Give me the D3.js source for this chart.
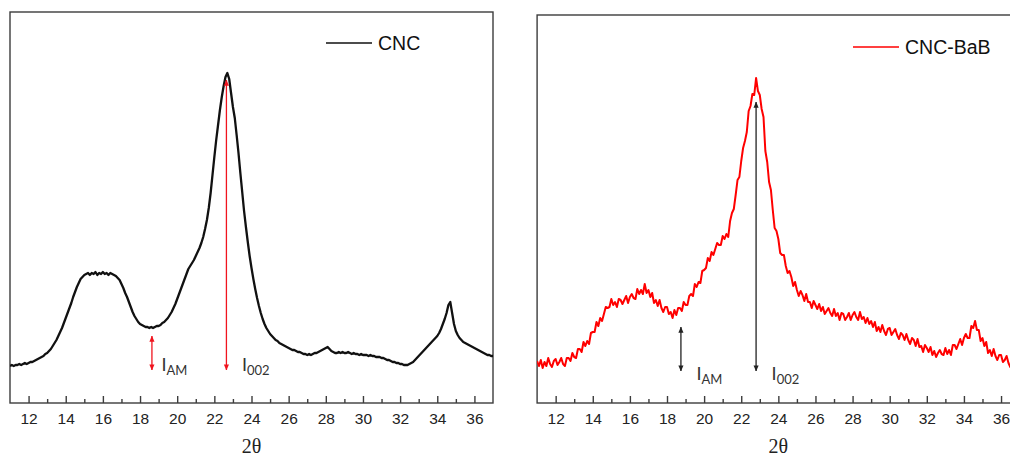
<!DOCTYPE html>
<html>
<head>
<meta charset="utf-8">
<script src="https://cdn.jsdelivr.net/npm/d3@7"></script>
<style>
  html, body { margin: 0; padding: 0; background: #fff; }
  svg { display: block; }
</style>
</head>
<body>
<svg id="chart" width="1010" height="459"></svg>
<script>
// XRD patterns, sampled every 0.1 degree 2θ from 11 to 37 (intensity in a.u.)
const thetaStart = 11;
const thetaStep = 0.1;

const cncIntensity = [
  37,38,37,38,38,39,38,39,40,39,40,
  41,41,42,43,44,45,46,47,49,50,
  52,54,57,60,63,67,71,75,80,85,
  90,95,100,106,111,116,120,124,126,128,
  129,130,128,130,129,131,128,130,129,131,
  129,130,128,130,129,128,127,125,123,119,
  115,110,106,101,96,91,87,84,81,79,
  78,77,76,76,75,76,75,76,77,77,
  78,80,81,83,85,88,91,95,99,104,
  109,114,119,124,129,134,137,140,143,147,
  151,155,160,166,174,183,195,210,228,246,
  263,278,293,306,317,326,330,324,310,296,
  285,268,250,230,211,192,176,161,147,135,
  124,114,105,97,90,84,79,75,72,69,
  67,65,63,62,60,59,58,57,56,55,
  54,53,53,52,51,51,50,49,49,48,
  49,48,49,50,50,51,52,53,54,55,
  56,54,52,51,50,50,51,50,51,50,
  50,51,50,49,50,49,49,48,49,48,
  48,48,47,48,47,47,46,46,46,45,
  45,44,43,43,42,41,41,40,40,39,
  39,38,38,38,39,40,41,43,45,47,
  49,51,53,55,57,59,61,63,65,67,
  70,74,79,84,90,98,101,90,79,72,
  68,65,63,61,60,59,58,57,56,55,
  54,53,52,51,50,49,48,48,47,47
];

const cncBabIntensity = [
  42,37,43,35,41,37,45,39,36,42,44,
  38,41,45,39,37,45,45,42,50,46,
  45,54,54,51,61,57,62,59,70,71,
  71,81,77,85,82,89,96,95,96,104,
  98,101,96,104,103,99,103,107,100,106,
  109,105,104,114,109,113,109,119,110,113,
  106,110,100,103,97,103,95,91,96,96,
  89,91,85,93,88,95,95,92,101,98,
  98,107,109,107,119,116,121,120,132,133,
  135,145,142,151,148,154,160,158,158,167,
  164,169,166,182,190,194,208,223,226,242,
  255,262,271,292,297,309,308,325,312,308,
  294,286,252,241,221,213,193,175,172,164,
  150,148,148,137,130,132,126,117,121,113,
  107,112,108,102,109,101,101,95,102,98,
  94,99,92,96,89,92,95,90,87,94,
  87,90,83,90,89,83,86,90,83,88,
  91,86,83,91,84,86,80,85,79,82,
  76,81,72,76,71,78,72,68,74,75,
  68,71,74,68,64,70,68,63,69,63,
  59,65,63,57,64,56,57,51,58,55,
  51,56,48,52,46,50,53,49,48,55,
  49,53,48,58,58,54,59,64,58,65,
  69,65,65,77,75,82,73,73,62,65,
  57,61,50,53,47,54,47,43,48,48,
  41,43,47,40,36,43,41,37,43,38
];

const xMajorTicks = [12, 14, 16, 18, 20, 22, 24, 26, 28, 30, 32, 34, 36];
const xMinorTicks = [13, 15, 17, 19, 21, 23, 25, 27, 29, 31, 33, 35];
const xTitle = "2θ";
const seriesNames = ["CNC", "CNC-BaB"];

// I_AM / I_002 markers: position in 2θ and vertical extent in intensity units
const cncArrows = [
  { sub: "AM",  theta: 18.64, top: 67,  bottom: 33 },
  { sub: "002", theta: 22.65, top: 323, bottom: 33 }
];
const babArrows = [
  { sub: "AM",  theta: 18.75, top: 76,  bottom: 32 },
  { sub: "002", theta: 22.80, top: 301, bottom: 32 }
];

const svg = d3.select("#chart");
const defs = svg.append("defs");

function addArrowMarker(id, color) {
  defs.append("marker")
    .attr("id", id)
    .attr("viewBox", "0 0 8 8")
    .attr("refX", 7.5).attr("refY", 4)
    .attr("markerWidth", 6).attr("markerHeight", 6)
    .attr("markerUnits", "userSpaceOnUse")
    .attr("orient", "auto-start-reverse")
    .append("path")
    .attr("d", "M0,0.6 L8,4 L0,7.4 Z")
    .attr("fill", color);
}
addArrowMarker("head-red", "#f0141e");
addArrowMarker("head-dark", "#222");

function toPoints(values) {
  return values.map((v, i) => ({ t: thetaStart + i * thetaStep, v }));
}

function drawPanel(cfg) {
  const x = d3.scaleLinear().domain([11, 37]).range([cfg.left, cfg.right]);
  const y = d3.scaleLinear().domain([0, cfg.yMax]).range([cfg.bottom, cfg.top]);
  const g = svg.append("g");

  const clipId = "clip-" + cfg.id;
  defs.append("clipPath").attr("id", clipId)
    .append("rect")
    .attr("x", cfg.left).attr("y", cfg.top)
    .attr("width", cfg.right - cfg.left).attr("height", cfg.bottom - cfg.top);

  // frame
  g.append("rect")
    .attr("x", cfg.left).attr("y", cfg.top)
    .attr("width", cfg.right - cfg.left).attr("height", cfg.bottom - cfg.top)
    .attr("fill", "none").attr("stroke", "#3c3c3c").attr("stroke-width", 1.4);

  // trace
  const line = d3.line().x(d => x(d.t)).y(d => y(d.v));
  g.append("path")
    .datum(toPoints(cfg.values))
    .attr("clip-path", `url(#${clipId})`)
    .attr("d", line)
    .attr("fill", "none")
    .attr("stroke", cfg.color)
    .attr("stroke-width", cfg.lineWidth)
    .attr("stroke-linejoin", "round");

  // x axis with inward major and minor ticks
  const major = g.append("g").attr("transform", `translate(0,${cfg.bottom})`)
    .call(d3.axisBottom(x).tickValues(xMajorTicks).tickSize(-7).tickPadding(10)
      .tickFormat(d3.format("d")));
  const minor = g.append("g").attr("transform", `translate(0,${cfg.bottom})`)
    .call(d3.axisBottom(x).tickValues(xMinorTicks).tickSize(-4).tickFormat(""));
  [major, minor].forEach(a => {
    a.select(".domain").remove();
    a.selectAll(".tick line").attr("stroke", "#3c3c3c").attr("stroke-width", 1.4);
  });
  major.selectAll(".tick text")
    .attr("fill", "#222")
    .style("font-family", "'Liberation Sans', Arial, sans-serif")
    .style("font-size", "15.5px");

  // axis title
  g.append("text")
    .attr("x", (cfg.left + cfg.right) / 2).attr("y", 453)
    .attr("text-anchor", "middle")
    .style("font-family", "'Liberation Serif', 'Times New Roman', serif")
    .style("font-size", "20px")
    .attr("fill", "#222")
    .text(xTitle);

  // legend
  g.append("line")
    .attr("x1", cfg.legendX).attr("x2", cfg.legendX + 46)
    .attr("y1", cfg.legendY).attr("y2", cfg.legendY)
    .attr("stroke", cfg.color).attr("stroke-width", 1.6);
  g.append("text")
    .attr("x", cfg.legendX + 52).attr("y", cfg.legendY + 7)
    .style("font-family", "'Liberation Sans', Arial, sans-serif")
    .style("font-size", "19.5px")
    .attr("fill", "#111")
    .text(cfg.name);

  // intensity markers
  cfg.arrows.forEach((a, i) => {
    const ax = x(a.theta);
    g.append("line")
      .attr("x1", ax).attr("x2", ax)
      .attr("y1", y(a.top)).attr("y2", y(a.bottom))
      .attr("stroke", cfg.arrowColor).attr("stroke-width", 1.3)
      .attr("marker-start", `url(#${cfg.marker})`)
      .attr("marker-end", `url(#${cfg.marker})`);
    const lbl = g.append("text")
      .attr("x", ax + cfg.labelDx[i]).attr("y", cfg.labelY)
      .style("font-family", "Lato, 'Open Sans', sans-serif")
      .style("font-size", "18px")
      .attr("fill", "#333");
    lbl.append("tspan").text("I");
    lbl.append("tspan").attr("dy", 4).style("font-size", "13px").text(a.sub);
  });
}

drawPanel({
  id: "cnc", name: seriesNames[0], values: cncIntensity,
  left: 10, right: 493, top: 12, bottom: 403, yMax: 391,
  color: "#111", lineWidth: 2.3, legendX: 326, legendY: 43,
  arrows: cncArrows, arrowColor: "#f0141e", marker: "head-red",
  labelDx: [9.5, 15.5], labelY: 371
});

drawPanel({
  id: "bab", name: seriesNames[1], values: cncBabIntensity,
  left: 537.1, right: 1019.6, top: 15, bottom: 403, yMax: 388,
  color: "#ff0000", lineWidth: 2, legendX: 853, legendY: 47,
  arrows: babArrows, arrowColor: "#222", marker: "head-dark",
  labelDx: [15.5, 15.5], labelY: 380
});
</script>
</body>
</html>
